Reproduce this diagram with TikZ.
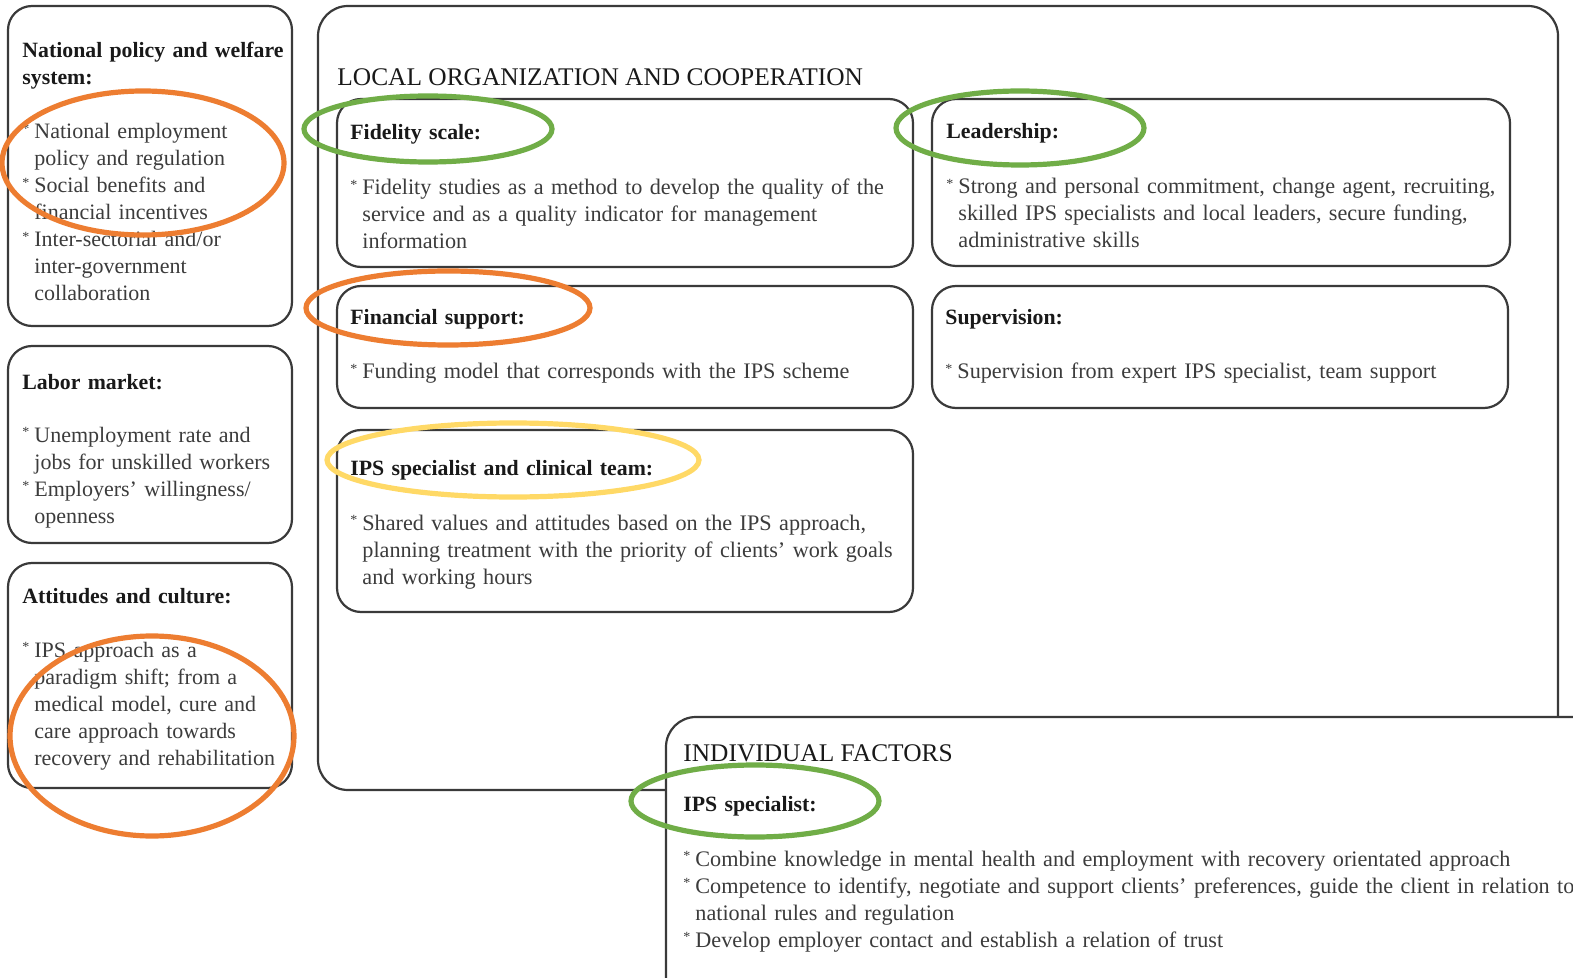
\documentclass[tikz,border=0pt]{standalone}
\usepackage{fontspec}
\setmainfont{Liberation Serif}
\usepackage{tikz}
\usetikzlibrary{calc}

\definecolor{framegray}{HTML}{3A3A3A}
\definecolor{bodygray}{HTML}{3C3C3C}
\definecolor{markorange}{HTML}{ED7D31}
\definecolor{markgreen}{HTML}{70AD47}
\definecolor{markyellow}{HTML}{FFD966}

\newcommand{\bitem}[1]{\noindent\hangindent=6pt\hangafter=1\makebox[6pt][l]{\raisebox{.5ex}{\scriptsize *}}#1\par}

\tikzset{
	panel/.style={draw=framegray, line width=1.1pt, rounded corners=12pt, fill=white},
	head/.style={anchor=base west, inner sep=0pt, yshift=-1.5pt, text width=300pt, align=left, text=black!90, font=\bfseries\fontsize{10.9}{13.5}\selectfont},
	body/.style={anchor=base west, inner sep=0pt, yshift=-1.5pt, text width=500pt, align=left, text=bodygray, font=\fontsize{11.1}{13.5}\selectfont},
	sidebody/.style={body, font=\fontsize{11}{13.5}\selectfont},
	title/.style={anchor=base west, inner sep=0pt, yshift=-1.2pt, text=black!90, font=\fontsize{12.7}{14}\selectfont},
	ring/.style={line width=2.6pt},
}

\begin{document}
\begin{tikzpicture}[x=0.5pt, y=-0.5pt]
	\useasboundingbox (0,0) rectangle (1573,978);
	\clip (0,0) rectangle (1573,978);
	\fill[white] (0,0) rectangle (1573,978);
	
	% left column
	\draw[panel] (8,6) rectangle (292,326);
	\draw[panel] (8,346) rectangle (292,543);
	\draw[panel] (8,563) rectangle (292,788);
	
	\node[head] (welfareHead) at (22,55) {National policy and welfare\newline system:};
	\node[sidebody] (welfareBody) at (22,136) {%
		\bitem{National employment\newline policy and regulation}%
		\bitem{Social benefits and\newline financial incentives}%
		\bitem{Inter-sectorial and/or\newline inter-government\newline collaboration}};
	
	\node[head] (laborHead) at (22,386) {Labor market:};
	\node[sidebody] (laborBody) at (22,439) {%
		\bitem{Unemployment rate and\newline jobs for unskilled workers}%
		\bitem{Employers’ willingness/\newline openness}};
	
	\node[head] (cultureHead) at (22,600) {Attitudes and culture:};
	\node[sidebody] (cultureBody) at (22,654) {%
		\bitem{IPS approach as a\newline paradigm shift; from a\newline medical model, cure and\newline care approach towards\newline recovery and rehabilitation}};
	
	% local organization
	\draw[panel, rounded corners=15pt] (318,6) rectangle (1558,790);
	\node[title] (localTitle) at (337,83) {LOCAL ORGANIZATION AND COOPERATION};
	
	\draw[panel] (337,99) rectangle (913,267);
	\draw[panel] (932,99) rectangle (1510,266);
	\draw[panel] (337,286) rectangle (913,408);
	\draw[panel] (932,286) rectangle (1508,408);
	\draw[panel] (337,430) rectangle (913,612);
	
	\node[head] (fidelityHead) at (350,137) {Fidelity scale:};
	\node[body] (fidelityBody) at (350,192) {%
		\bitem{Fidelity studies as a method to develop the quality of the\newline service and as a quality indicator for management\newline information}};
	
	\node[head] (leaderHead) at (946,136) {Leadership:};
	\node[body] (leaderBody) at (946,191) {%
		\bitem{Strong and personal commitment, change agent, recruiting,\newline skilled IPS specialists and local leaders, secure funding,\newline administrative skills}};
	
	\node[head] (fundHead) at (350,322) {Financial support:};
	\node[body] (fundBody) at (350,376) {%
		\bitem{Funding model that corresponds with the IPS scheme}};
	
	\node[head] (superHead) at (945,322) {Supervision:};
	\node[body] (superBody) at (945,376) {%
		\bitem{Supervision from expert IPS specialist, team support}};
	
	\node[head] (teamHead) at (350,472) {IPS specialist and clinical team:};
	\node[body] (teamBody) at (350,527) {%
		\bitem{Shared values and attitudes based on the IPS approach,\newline planning treatment with the priority of clients’ work goals\newline and working hours}};
	
	% individual factors
	\draw[panel, rounded corners=15pt] (666,1010) rectangle (1610,717);
	\node[title] (indivTitle) at (683,759) {INDIVIDUAL FACTORS};
	\node[head] (specHead) at (683,808) {IPS specialist:};
	\node[body] (specBody) at (683,863) {%
		\bitem{Combine knowledge in mental health and employment with recovery orientated approach}%
		\bitem{Competence to identify, negotiate and support clients’ preferences, guide the client in relation to\newline national rules and regulation}%
		\bitem{Develop employer contact and establish a relation of trust}};
	
	% highlight rings
	\draw[ring, markorange] (143,163) ellipse [x radius=141, y radius=72];
	\draw[ring, markorange] (152,736) ellipse [x radius=142, y radius=100];
	\draw[ring, markgreen] (428,129) ellipse [x radius=124, y radius=33];
	\draw[ring, markgreen] (1020,128) ellipse [x radius=124, y radius=37];
	\draw[ring, markorange] (448,308) ellipse [x radius=142, y radius=37];
	\draw[ring, markyellow] (513,460) ellipse [x radius=186, y radius=37];
	\draw[ring, markgreen] (755,801) ellipse [x radius=124, y radius=36];
\end{tikzpicture}
\end{document}
